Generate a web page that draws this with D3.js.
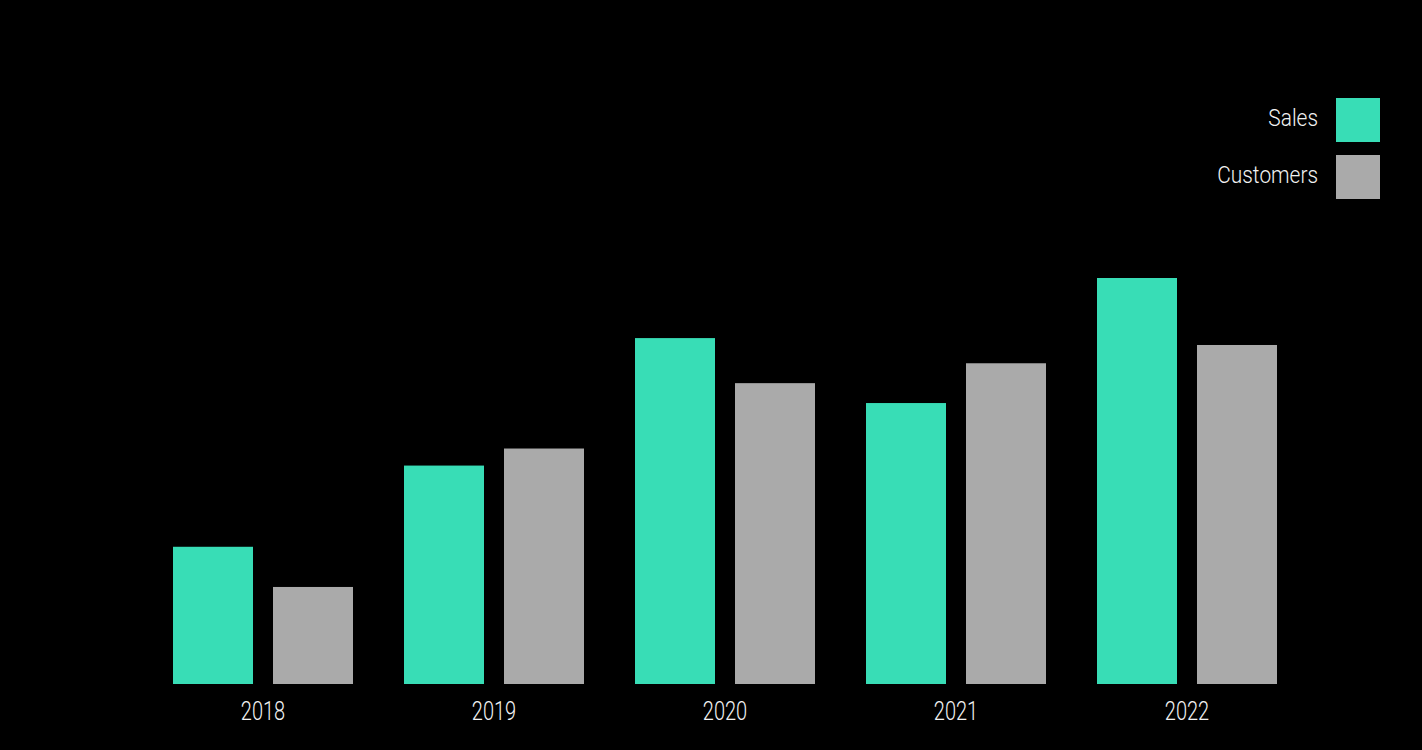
<!DOCTYPE html>
<html>
<head>
<meta charset="utf-8">
<script src="https://cdn.jsdelivr.net/npm/d3@7"></script>
<style>
html, body { margin: 0; padding: 0; background: #000; }
svg { display: block; }
text { font-family: Roboto, "Open Sans", sans-serif; font-weight: 300; fill: #f2f2f2; }
</style>
</head>
<body>
<svg id="chart" width="1422" height="750"></svg>
<script>
const years = ["2018", "2019", "2020", "2021", "2022"];
const seriesNames = ["Sales", "Customers"];
const sales = [33.8, 53.8, 85.2, 69.2, 100];
const customers = [23.9, 58, 74.1, 79, 83.5];
const colors = ["#38ddb6", "#aaaaaa"];

const svg = d3.select("#chart");
svg.append("rect").attr("width", 1422).attr("height", 750).attr("fill", "#000");

const x0 = d3.scaleBand().domain(years).range([147.5, 1302.5]).paddingInner(51 / 231).paddingOuter(0.1104);
const x1 = d3.scaleBand().domain(seriesNames).range([0, x0.bandwidth()]).paddingInner(0.2);
const y = d3.scaleLinear().domain([0, 100]).range([684, 278]);
const color = d3.scaleOrdinal().domain(seriesNames).range(colors);

const rows = years.map((yr, i) => ({ year: yr, Sales: sales[i], Customers: customers[i] }));

const g = svg.append("g");
g.selectAll("g.grp").data(rows).join("g")
  .attr("class", "grp")
  .attr("transform", d => `translate(${x0(d.year)},0)`)
  .selectAll("rect").data(d => seriesNames.map(k => ({ key: k, value: d[k] }))).join("rect")
  .attr("x", d => x1(d.key))
  .attr("width", x1.bandwidth())
  .attr("y", d => y(d.value))
  .attr("height", d => y(0) - y(d.value))
  .attr("fill", d => color(d.key));

const xAxis = d3.axisBottom(x0).tickSize(0).tickPadding(18);
const ax = svg.append("g").attr("transform", "translate(0,684)").call(xAxis);
ax.select(".domain").remove();
ax.selectAll("text")
  .attr("font-size", 25)
  .style("font-family", "Roboto, sans-serif")
  .style("font-weight", 300)
  .attr("fill", "#f2f2f2")
  .attr("transform", "scale(0.8,1)");

const legend = svg.append("g").attr("transform", "translate(1336,98)");
const li = legend.selectAll("g").data(seriesNames).join("g")
  .attr("transform", (d, i) => `translate(0,${i * 57})`);
li.append("rect").attr("width", 44).attr("height", 44).attr("fill", d => color(d));
li.append("text")
  .attr("transform", "translate(-18,28) scale(0.87,1)")
  .attr("text-anchor", "end").attr("font-size", 24).text(d => d);
</script>
</body>
</html>
